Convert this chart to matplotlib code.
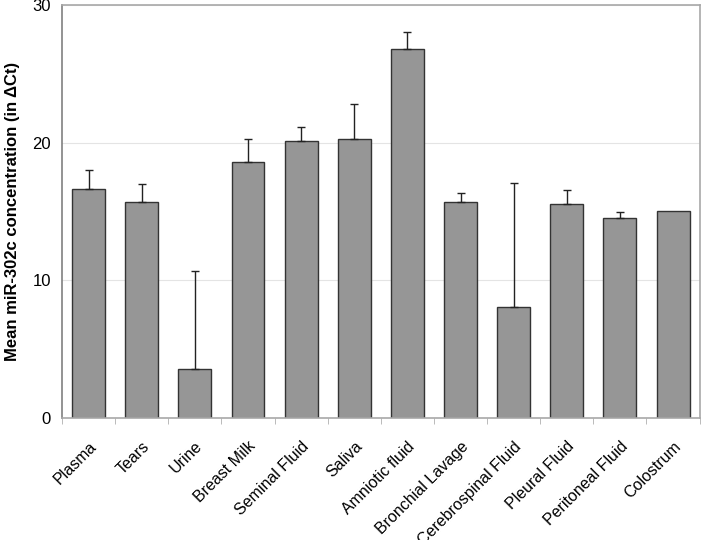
import numpy as np
import matplotlib.pyplot as plt

plt.rcParams['font.family'] = ['Liberation Sans', 'DejaVu Sans']

fluids = ["Plasma", "Tears", "Urine", "Breast Milk", "Seminal Fluid", "Saliva",
          "Amniotic fluid", "Bronchial Lavage", "Cerebrospinal Fluid",
          "Pleural Fluid", "Peritoneal Fluid", "Colostrum"]
means = [16.6, 15.7, 3.55, 18.6, 20.1, 20.25, 26.8, 15.7, 8.05, 15.55, 14.5, 15.05]
err_up = [1.4, 1.3, 7.1, 1.65, 1.05, 2.55, 1.25, 0.65, 9.05, 1.0, 0.45, 0.0]

fig = plt.figure(figsize=(7.01, 5.4), dpi=100)
ax = fig.add_axes([0.0885, 0.226, 0.9095, 0.7648])

x = np.arange(len(fluids))
ax.bar(x, means, width=0.62, color="#969696", edgecolor="#333333", linewidth=1.0, zorder=2)

# colostrum has no error bar in the original
has_err = np.array(err_up) > 0
ax.errorbar(x[has_err], np.array(means)[has_err],
            yerr=[np.zeros(has_err.sum()), np.array(err_up)[has_err]], fmt="none",
            ecolor="#222222", elinewidth=1.0, capsize=3, capthick=1.0, zorder=3)

ax.set_xlim(-0.5, len(fluids) - 0.5)
ax.set_ylim(0, 30)
ax.set_yticks([0, 10, 20, 30])
ax.yaxis.grid(True, color="#e4e4e4", linewidth=0.8, zorder=0)
ax.set_axisbelow(True)

ax.set_xticks(x)
ax.set_xticklabels(fluids, rotation=45, ha="right", rotation_mode="anchor", fontsize=11.5)
ax.tick_params(axis="x", which="major", length=0, pad=15)
ax.set_xticks(np.arange(-0.5, len(fluids), 1), minor=True)
ax.tick_params(axis="x", which="minor", length=4, color="#b0b0b0")
ax.tick_params(axis="y", length=0, pad=8, labelsize=12)

for s in ax.spines.values():
    s.set_color("#a8a8a8")
    s.set_linewidth(1.2)
ax.spines["left"].set_color("#808080")

ax.set_ylabel("Mean miR-302c concentration (in \u0394Ct)", fontsize=12, fontweight="bold", labelpad=9)

fig.savefig("out.png", dpi=100)
